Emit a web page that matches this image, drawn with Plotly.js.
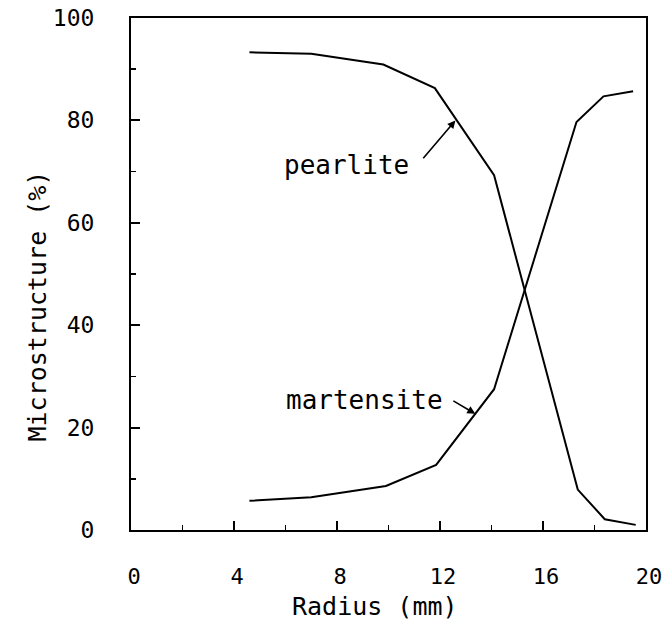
<!DOCTYPE html>
<html>
<head>
<meta charset="utf-8">
<script src="https://cdn.plot.ly/plotly-3.0.1.min.js"></script>
<style>
  html, body { margin: 0; padding: 0; background: #fff; }
  #chart { width: 670px; height: 628px; }
</style>
</head>
<body>
<div id="chart"></div>
<script>
// Radial position (mm) and microstructure fractions (%)
const radiusPearlite = [4.6, 7.0, 9.8, 11.8, 14.1, 17.35, 18.4, 19.6];
const pearlite       = [93.3, 93.0, 90.9, 86.3, 69.3, 7.9, 2.1, 1.0];

const radiusMartensite = [4.6, 7.0, 9.9, 11.85, 14.1, 17.3, 18.35, 19.5];
const martensite       = [5.7, 6.4, 8.6, 12.7, 27.5, 79.7, 84.7, 85.7];

const xTicks = [0, 4, 8, 12, 16, 20];
const yTicks = [0, 20, 40, 60, 80, 100];

// Label placement and arrow targets, in data units
const pearliteLabel   = {text: 'pearlite', x: 8.35, y: 71.3, tail: [11.3, 72.3], head: [12.6, 80.0]};
const martensiteLabel = {text: 'martensite', x: 9.05, y: 25.4, tail: [12.46, 25.4], head: [13.37, 22.7]};

const FONT = '"DejaVu Sans Mono", "Liberation Mono", monospace';

const lineStyle = {color: '#000', width: 2};

const traces = [
  {x: radiusPearlite, y: pearlite, mode: 'lines', line: lineStyle, name: 'pearlite', hoverinfo: 'x+y'},
  {x: radiusMartensite, y: martensite, mode: 'lines', line: lineStyle, name: 'martensite', hoverinfo: 'x+y'}
];

function labelAnnotations(lbl) {
  return [
    {x: lbl.x, y: lbl.y, xref: 'x', yref: 'y', text: lbl.text, showarrow: false,
     font: {family: FONT, size: 26, color: '#000'}},
    {x: lbl.head[0], y: lbl.head[1], ax: lbl.tail[0], ay: lbl.tail[1],
     xref: 'x', yref: 'y', axref: 'x', ayref: 'y', text: '', showarrow: true,
     arrowhead: 2, arrowsize: 1, arrowwidth: 1.6, arrowcolor: '#000',
     font: {size: 1}}
  ];
}

const layout = {
  width: 670,
  height: 628,
  margin: {l: 131, r: 24, t: 18, b: 98},
  paper_bgcolor: '#fff',
  plot_bgcolor: '#fff',
  showlegend: false,
  font: {family: FONT, color: '#000'},
  xaxis: {
    range: [0, 20],
    tickvals: xTicks,
    ticktext: xTicks.map(String),
    ticks: 'inside', ticklen: 9, tickwidth: 2, tickcolor: '#000',
    minor: {dtick: 2, ticks: 'inside', ticklen: 5, tickwidth: 1.5, tickcolor: '#000'},
    showline: true, linecolor: '#000', linewidth: 2, mirror: true,
    showgrid: false, zeroline: false,
    tickfont: {family: FONT, size: 22, color: '#000'},
    ticklabelstandoff: 26,
    ticklabelshift: 3
  },
  yaxis: {
    range: [0, 100],
    tickvals: yTicks,
    ticktext: yTicks.map(String),
    ticks: 'inside', ticklen: 9, tickwidth: 2, tickcolor: '#000',
    minor: {dtick: 10, ticks: 'inside', ticklen: 5, tickwidth: 1.5, tickcolor: '#000'},
    showline: true, linecolor: '#000', linewidth: 2, mirror: true,
    showgrid: false, zeroline: false,
    tickfont: {family: FONT, size: 23, color: '#000'},
    ticklabelstandoff: 30
  },
  annotations: [
    ...labelAnnotations(pearliteLabel),
    ...labelAnnotations(martensiteLabel),
    {xref: 'paper', yref: 'paper', x: 0.473, y: -0.149, yanchor: 'middle',
     text: 'Radius (mm)', showarrow: false, font: {family: FONT, size: 25, color: '#000'}},
    {xref: 'paper', yref: 'paper', x: -0.182, y: 0.437, xanchor: 'center',
     text: 'Microstructure (%)', textangle: -90, showarrow: false,
     font: {family: FONT, size: 25, color: '#000'}}
  ]
};

Plotly.newPlot('chart', traces, layout, {staticPlot: true, displayModeBar: false});
</script>
</body>
</html>
